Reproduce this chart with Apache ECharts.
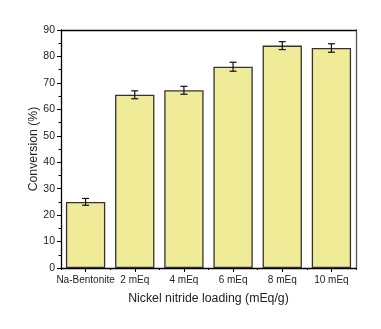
<!DOCTYPE html>
<html>
<head>
<meta charset="utf-8">
<script src="https://cdn.jsdelivr.net/npm/echarts@6/dist/echarts.min.js"></script>
<style>
  html, body { margin: 0; padding: 0; background: #fff; }
  #chart { width: 381px; height: 329px; }
</style>
</head>
<body>
<div id="chart"></div>
<script>
var categories = ['Na-Bentonite', '2 mEq', '4 mEq', '6 mEq', '8 mEq', '10 mEq'];
var conversion = [25.0, 65.5, 67.2, 76.1, 84.1, 83.2];
var errors = [1.3, 1.5, 1.5, 1.7, 1.5, 1.6];

var errData = categories.map(function (c, i) {
  return [i, conversion[i] - errors[i], conversion[i] + errors[i]];
});

var font = 'Liberation Sans, Arial, sans-serif';

var option = {
  animation: false,
  grid: { left: 61, right: 25, top: 30, bottom: 61 },
  xAxis: [{
    type: 'category',
    data: categories,
    axisLine: { lineStyle: { color: '#000', width: 1.3 } },
    axisTick: { show: true, alignWithLabel: true, length: 4, lineStyle: { color: '#000' } },
    axisLabel: { color: '#222', fontSize: 10, fontFamily: font, margin: 7, interval: 0 },
    name: 'Nickel nitride loading (mEq/g)',
    nameLocation: 'middle',
    nameGap: 25,
    nameTextStyle: { color: '#222', fontSize: 12.3, fontFamily: font }
  }, {
    type: 'category',
    position: 'top',
    data: categories,
    axisLine: { onZero: false, lineStyle: { color: '#000', width: 1.3 } },
    axisTick: { show: false },
    axisLabel: { show: false }
  }, {
    // short ticks at the category boundaries
    type: 'category',
    position: 'bottom',
    data: categories,
    axisLine: { show: false },
    axisTick: { show: true, interval: 0, length: 2, lineStyle: { color: '#000' } },
    axisLabel: { show: false }
  }],
  yAxis: [{
    type: 'value',
    min: 0,
    max: 90,
    interval: 10,
    axisLine: { show: true, lineStyle: { color: '#000', width: 1.3 } },
    axisTick: { show: true, length: 4, lineStyle: { color: '#000' } },
    minorTick: { show: true, splitNumber: 2, length: 2.5, lineStyle: { color: '#000' } },
    splitLine: { show: false },
    axisLabel: { color: '#222', fontSize: 10.5, fontFamily: font, margin: 6 },
    name: 'Conversion (%)',
    nameLocation: 'middle',
    nameGap: 21,
    nameMoveOverlap: false,
    nameTextStyle: { color: '#222', fontSize: 12.3, fontFamily: font }
  }, {
    type: 'value',
    position: 'right',
    min: 0,
    max: 90,
    axisLine: { show: true, onZero: false, lineStyle: { color: '#555', width: 1.3 } },
    axisTick: { show: false },
    axisLabel: { show: false },
    splitLine: { show: false }
  }],
  series: [{
    type: 'bar',
    data: conversion,
    barWidth: '80%',
    itemStyle: { color: '#F0EB96', borderColor: '#333', borderWidth: 1.3 }
  }, {
    type: 'custom',
    data: errData,
    z: 10,
    renderItem: function (params, api) {
      var x = api.value(0);
      var lo = api.coord([x, api.value(1)]);
      var hi = api.coord([x, api.value(2)]);
      var w = 3.5;
      var style = { stroke: '#111', lineWidth: 1.2 };
      return {
        type: 'group',
        children: [
          { type: 'line', shape: { x1: lo[0], y1: lo[1], x2: hi[0], y2: hi[1] }, style: style },
          { type: 'line', shape: { x1: lo[0] - w, y1: lo[1], x2: lo[0] + w, y2: lo[1] }, style: style },
          { type: 'line', shape: { x1: hi[0] - w, y1: hi[1], x2: hi[0] + w, y2: hi[1] }, style: style }
        ]
      };
    }
  }]
};

var myChart = echarts.init(document.getElementById('chart'));
myChart.setOption(option);
</script>
</body>
</html>
